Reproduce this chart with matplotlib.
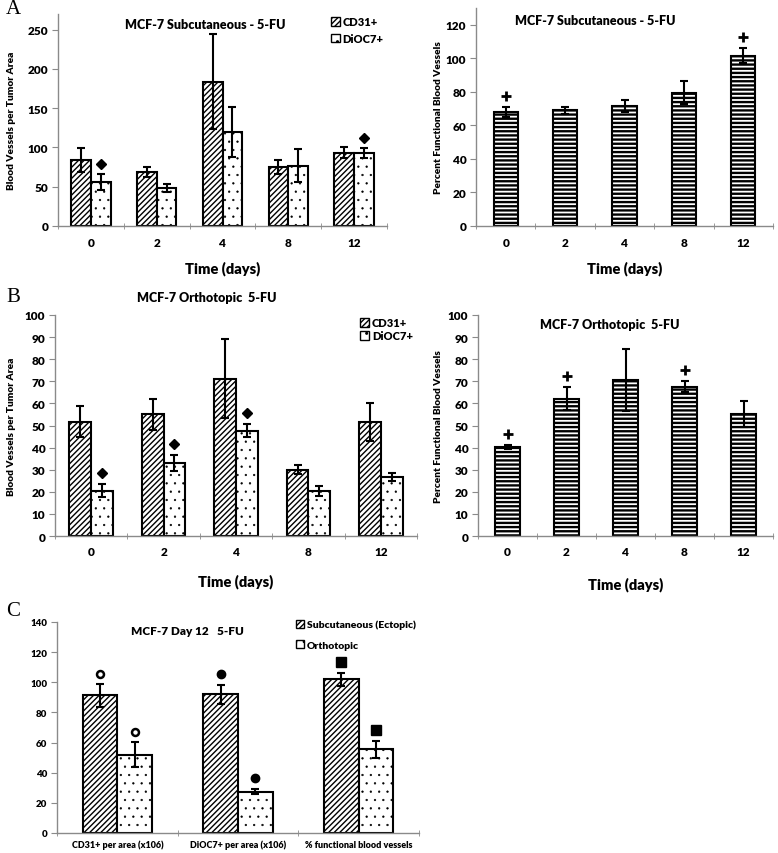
import matplotlib
matplotlib.use("Agg")
import matplotlib.pyplot as plt
from matplotlib.patches import Patch
import numpy as np

plt.rcParams["font.family"] = ["Lato", "DejaVu Sans"]
plt.rcParams["font.weight"] = "heavy"

# time points
days = ["0", "2", "4", "8", "12"]

# A: subcutaneous
a_cd31 = [84, 69, 184, 75, 93]
a_cd31_err = [15, 6, 60, 9, 7]
a_dioc = [56, 48, 120, 77, 93]
a_dioc_err = [10, 5, 32, 21, 6]
a_dioc_sig = ["D", None, None, None, "D"]
a_func = [68, 69, 71.5, 79.5, 101.5]
a_func_err = [3, 2, 3.5, 7, 4.5]
a_func_sig = ["+", None, None, None, "+"]

# B: orthotopic
b_cd31 = [51.6, 55, 71.2, 30, 51.5]
b_cd31_err = [7, 7, 18, 2, 8.5]
b_dioc = [20.5, 33, 47.7, 20.5, 26.7]
b_dioc_err = [3, 3.6, 3, 2.3, 1.8]
b_dioc_sig = ["D", "D", "D", None, None]
b_func = [40.3, 62.2, 70.5, 67.5, 55.3]
b_func_err = [1, 5, 14, 2.5, 6]
b_func_sig = ["+", "+", None, "+", None]

# C: day 12 comparison
c_cats = ["CD31+ per area (x106)", "DiOC7+ per area (x106)", "% functional blood vessels"]
c_sub = [91.3, 92, 101.9]
c_sub_err = [7.5, 6.2, 4.5]
c_orth = [52, 27.5, 55.6]
c_orth_err = [8.3, 1.8, 5.6]
c_sig = ["open", "o", "s"]

W, H = 778, 854
fig = plt.figure(figsize=(W / 100, H / 100), dpi=100)
BOLD = "heavy"


def px_axes(x0, x1, ytop, ybot):
    return fig.add_axes([x0 / W, 1 - ybot / H, (x1 - x0) / W, (ybot - ytop) / H])


def style_axes(ax, n, ymax, yticks, tick_fs=8.5, pad=8):
    ax.set_xlim(-0.5, n - 0.5)
    ax.set_ylim(0, ymax)
    ax.set_yticks(yticks)
    for s in ["top", "right"]:
        ax.spines[s].set_visible(False)
    for s in ["left", "bottom"]:
        ax.spines[s].set_color("#8a8a8a")
        ax.spines[s].set_linewidth(1.0)
    ax.tick_params(axis="y", length=4, color="#8a8a8a", labelsize=tick_fs, pad=3)
    ax.tick_params(axis="x", which="major", length=0, labelsize=tick_fs, pad=pad)
    ax.set_xticks(np.arange(n + 1) - 0.5, minor=True)
    ax.tick_params(axis="x", which="minor", length=4, color="#8a8a8a", direction="inout")


def title(ax, text, x, y, fs=8.5):
    ax.text(x, y, text, transform=ax.transAxes, ha="center", va="center",
            fontsize=fs, fontweight=BOLD)


def draw_marks(ax, xs, tops, sigs, ymax):
    for x, t, m in zip(xs, tops, sigs):
        if m is None:
            continue
        y = t + 0.05 * ymax
        if m == "+":
            ax.plot(x, y, marker="+", ms=7, color="black", mew=2)
        elif m == "open":
            ax.plot(x, y, marker="o", ms=5, mfc="white", mec="black", mew=1.8)
        elif m == "o":
            ax.plot(x, y, marker="o", ms=6, color="black")
        elif m == "s":
            ax.plot(x, y, marker="s", ms=6.5, color="black")
        else:
            ax.plot(x, y, marker="D", ms=5, color="black")


def err(ax, x, v, e):
    ax.errorbar(x, v, yerr=e, fmt="none", ecolor="black", elinewidth=1.5,
                capsize=3, capthick=1.5, zorder=3)


def paired_bars(ax, v1, e1, v2, e2, width):
    x = np.arange(len(v1))
    with plt.rc_context({"hatch.linewidth": 1.0}):
        ax.bar(x - width / 2, v1, width, color="white", edgecolor="black", hatch="//////", lw=1.5, zorder=2)
    with plt.rc_context({"hatch.linewidth": 0.4}):
        ax.bar(x + width / 2, v2, width, color="white", edgecolor="black", hatch="..", lw=1.5, zorder=2)
    err(ax, x - width / 2, v1, e1)
    err(ax, x + width / 2, v2, e2)
    return x


def single_bars(ax, v, e, width):
    x = np.arange(len(v))
    with plt.rc_context({"hatch.linewidth": 1.7}):
        ax.bar(x, v, width, color="white", edgecolor="black", hatch="----", lw=1.5, zorder=2)
    err(ax, x, v, e)
    return x


def legend(ax, labels, anchor, fs, spacing):
    with plt.rc_context({"hatch.linewidth": 1.0}):
        h1 = Patch(facecolor="white", edgecolor="black", hatch="//////", lw=1.0)
    with plt.rc_context({"hatch.linewidth": 0.5}):
        h2 = Patch(facecolor="white", edgecolor="black", hatch="..", lw=1.0)
    ax.legend([h1, h2], labels, loc="upper left", bbox_to_anchor=anchor, frameon=False,
              handlelength=0.8, handleheight=0.8, handletextpad=0.25, labelspacing=spacing,
              borderaxespad=0, borderpad=0, prop={"size": fs, "weight": BOLD})


# ---- A left
ax = px_axes(58, 387, 15, 227)
style_axes(ax, 5, 270, range(0, 251, 50))
x = paired_bars(ax, a_cd31, a_cd31_err, a_dioc, a_dioc_err, 0.3)
draw_marks(ax, x + 0.15, np.add(a_dioc, a_dioc_err), a_dioc_sig, 270)
ax.set_xticks(x)
ax.set_xticklabels(days)
title(ax, "MCF-7 Subcutaneous - 5-FU", 0.447, 0.953, 9)
ax.set_ylabel("Blood Vessels per Tumor Area", fontsize=7.3, fontweight=BOLD)
ax.yaxis.set_label_coords(-0.128, 0.5)
ax.set_xlabel("Time (days)", fontsize=10.5, fontweight=BOLD, labelpad=9)
legend(ax, ["CD31+", "DiOC7+"], (0.83, 0.99), 8, 0.5)

# ---- A right
ax = px_axes(476, 773, 9, 227)
style_axes(ax, 5, 130, range(0, 121, 20))
x = single_bars(ax, a_func, a_func_err, 0.41)
draw_marks(ax, x, np.add(a_func, a_func_err), a_func_sig, 130)
ax.set_xticks(x)
ax.set_xticklabels(days)
title(ax, "MCF-7 Subcutaneous - 5-FU", 0.40, 0.945, 9)
ax.set_ylabel("Percent Functional Blood Vessels", fontsize=7.3, fontweight=BOLD)
ax.yaxis.set_label_coords(-0.111, 0.5)
ax.set_xlabel("Time (days)", fontsize=10.5, fontweight=BOLD, labelpad=9)

# ---- B left
ax = px_axes(55, 417, 316, 537)
style_axes(ax, 5, 100, range(0, 101, 10), pad=7)
x = paired_bars(ax, b_cd31, b_cd31_err, b_dioc, b_dioc_err, 0.3)
draw_marks(ax, x + 0.15, np.add(b_dioc, b_dioc_err), b_dioc_sig, 100)
ax.set_xticks(x)
ax.set_xticklabels(days)
title(ax, "MCF-7 Orthotopic  5-FU", 0.42, 1.08, 9)
ax.set_ylabel("Blood Vessels per Tumor Area", fontsize=7.3, fontweight=BOLD)
ax.yaxis.set_label_coords(-0.108, 0.5)
ax.set_xlabel("Time (days)", fontsize=10.5, fontweight=BOLD, labelpad=12)
legend(ax, ["CD31+", "DiOC7+"], (0.843, 0.99), 8, 0.2)

# ---- B right
ax = px_axes(478, 773, 316, 537)
style_axes(ax, 5, 100, range(0, 101, 10), pad=7)
x = single_bars(ax, b_func, b_func_err, 0.41)
draw_marks(ax, x, np.add(b_func, b_func_err), b_func_sig, 100)
ax.set_xticks(x)
ax.set_xticklabels(days)
title(ax, "MCF-7 Orthotopic  5-FU", 0.447, 0.96, 9)
ax.set_ylabel("Percent Functional Blood Vessels", fontsize=7.3, fontweight=BOLD)
ax.yaxis.set_label_coords(-0.119, 0.5)
ax.set_xlabel("Time (days)", fontsize=10.5, fontweight=BOLD, labelpad=14)

# ---- C
ax = px_axes(57, 419, 623, 834)
style_axes(ax, 3, 140, range(0, 141, 20), tick_fs=7, pad=5)
x = paired_bars(ax, c_sub, c_sub_err, c_orth, c_orth_err, 0.286)
draw_marks(ax, x - 0.143, np.add(c_sub, c_sub_err), c_sig, 140)
draw_marks(ax, x + 0.143, np.add(c_orth, c_orth_err), c_sig, 140)
ax.set_xticks(x)
ax.set_xticklabels(c_cats, fontsize=6.5)
title(ax, "MCF-7 Day 12   5-FU", 0.36, 0.962, 8.5)
legend(ax, ["Subcutaneous (Ectopic)", "Orthotopic"], (0.66, 1.01), 7.5, 1.0)

# panel letters
for lab, ypx in [("A", 10), ("B", 297), ("C", 611)]:
    fig.text(6 / W, 1 - ypx / H, lab, fontsize=15, family="Liberation Serif",
             fontweight="normal", va="center", ha="left")

fig.savefig("out.png", dpi=100)
